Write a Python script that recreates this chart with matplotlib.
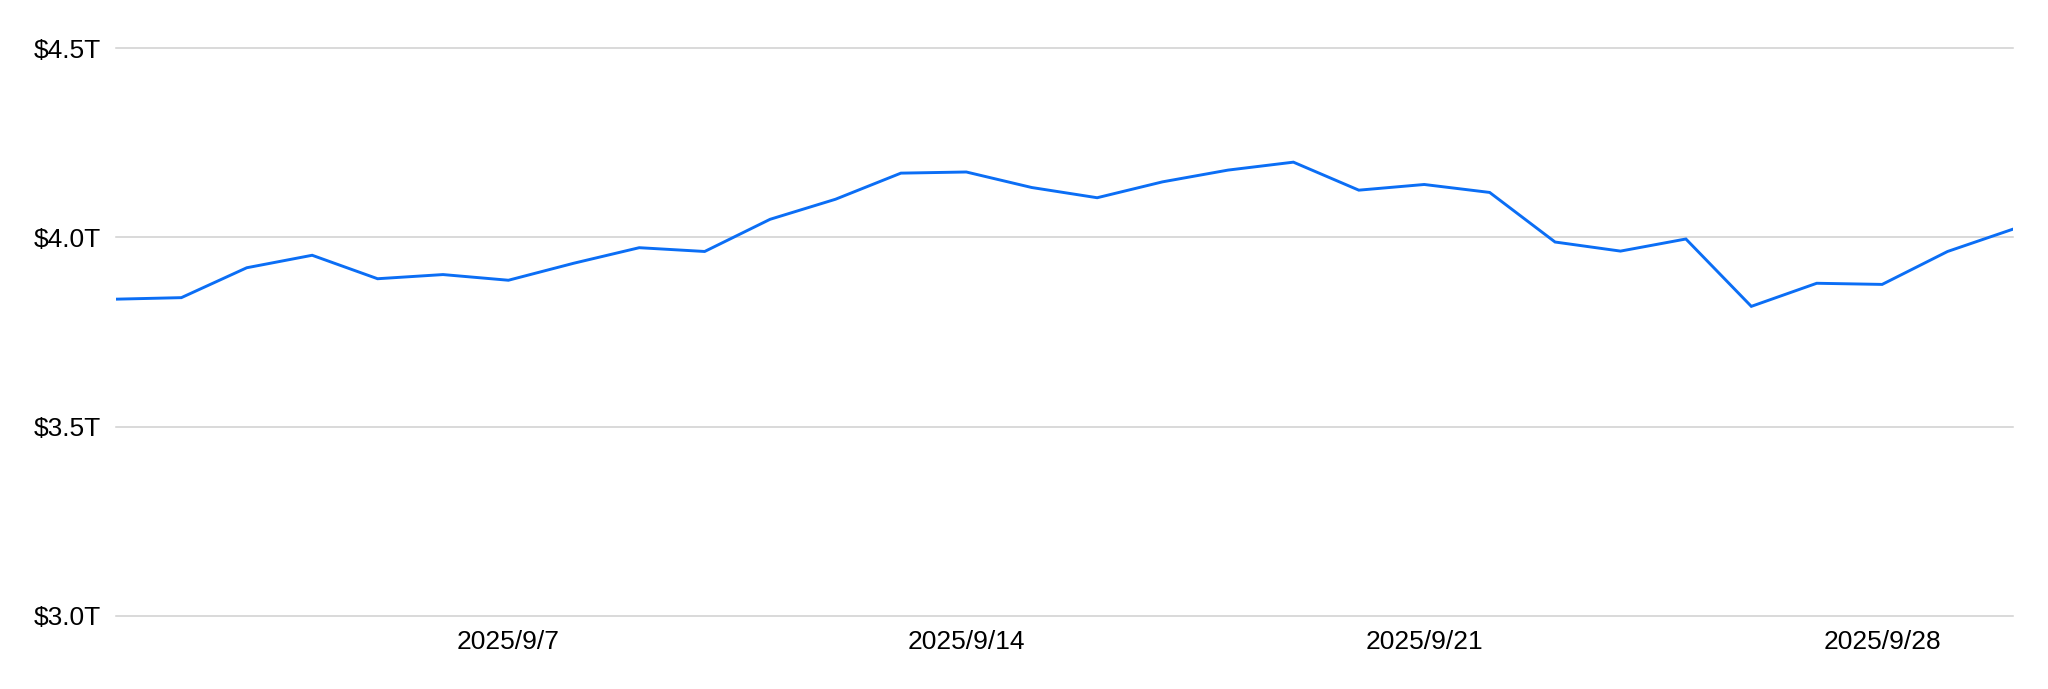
import matplotlib
matplotlib.use("Agg")
import matplotlib.pyplot as plt
import matplotlib.dates as mdates
import matplotlib.ticker as mticker
import pandas as pd

# dzienne wartości (biliony USD), wrzesień 2025
dni = pd.date_range("2025-09-01", "2025-09-30", freq="D")
wartosci = [3.837, 3.841, 3.920, 3.953, 3.891, 3.902, 3.887, 3.932, 3.973, 3.963,
            4.048, 4.101, 4.170, 4.173, 4.132, 4.105, 4.147, 4.178, 4.199, 4.125,
            4.140, 4.119, 3.988, 3.964, 3.996, 3.818, 3.879, 3.876, 3.963, 4.022]
y_ticki = [3.0, 3.5, 4.0, 4.5]
x_ticki = ["2025-09-07", "2025-09-14", "2025-09-21", "2025-09-28"]

plt.rcParams["font.family"] = ["Liberation Sans", "DejaVu Sans"]

fig = plt.figure(figsize=(20.48, 6.89), dpi=100)
ax = fig.add_axes([0.0566, 0.106, 0.9263, 0.824])

ax.plot(dni, wartosci, color="#0b6ef5", linewidth=2.1, solid_joinstyle="miter")

ax.set_ylim(3.0, 4.5)
ax.set_xlim(dni[0], dni[-1])
ax.set_yticks(y_ticki)
ax.yaxis.set_major_formatter(mticker.FuncFormatter(lambda v, p: f"${v:.1f}T"))
ax.set_xticks(pd.to_datetime(x_ticki))
ax.xaxis.set_major_formatter(
    mticker.FuncFormatter(lambda v, p: (lambda d: f"{d.year}/{d.month}/{d.day}")(mdates.num2date(v))))

ax.grid(axis="y", color="#cfcfcf", linewidth=1.1)
ax.set_axisbelow(True)
for gl in ax.get_ygridlines():
    gl.set_clip_on(False)
for s in ax.spines.values():
    s.set_visible(False)
ax.tick_params(axis="both", length=0, labelsize=19, colors="black")
ax.tick_params(axis="y", pad=11)
ax.tick_params(axis="x", pad=10)

fig.savefig("out.png", dpi=100, facecolor="white")
